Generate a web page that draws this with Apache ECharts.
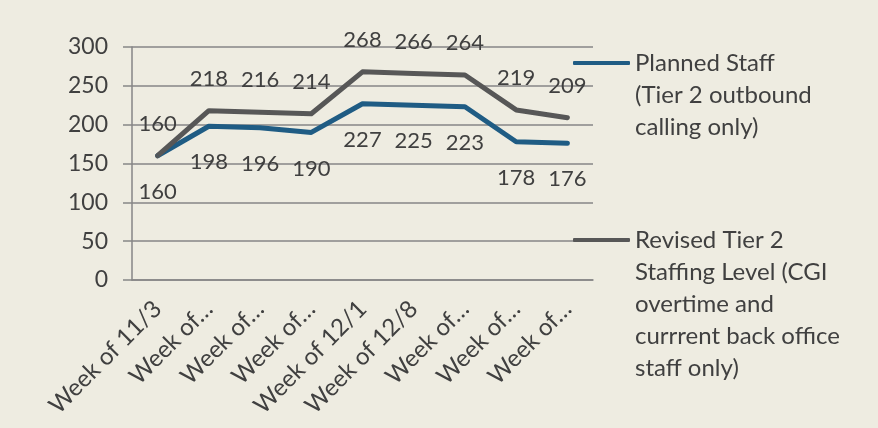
<!DOCTYPE html>
<html><head><meta charset="utf-8">
<style>html,body{margin:0;padding:0;background:#EEECE1;}#c{width:878px;height:428px;}</style>
<script src="https://cdn.jsdelivr.net/npm/echarts@6/dist/echarts.min.js"></script>
</head><body><div id="c"></div>
<script>
var categories = ["Week of 11/3","Week of\u2026","Week of\u2026","Week of\u2026","Week of 12/1","Week of 12/8","Week of\u2026","Week of\u2026","Week of\u2026"];
var plannedStaff = [160,198,196,190,227,225,223,178,176];
var revisedStaff = [160,218,216,214,268,266,264,219,209];
var seriesNames = ["Planned Staff\n(Tier 2 outbound\ncalling only)","Revised Tier 2\nStaffing Level (CGI\novertime and\ncurrrent back office\nstaff only)"];

var FONT = 'Lato';
var TXT = '#404040';
function padTop(name) {
  var n = name.split('\n').length - 1;
  var s = '';
  for (var i = 0; i < n; i++) s += ' \n';
  return s + name;
}
var chart = echarts.init(document.getElementById('c'));
chart.setOption({
  backgroundColor: '#EEECE1',
  animation: false,
  grid: {left: 132, right: 285, top: 47, bottom: 148},
  legend: [
    {data: [seriesNames[0]], left: 573, top: -17, padding: 0, itemWidth: 57, itemHeight: 4, icon: 'roundRect',
     formatter: padTop,
     textStyle: {fontFamily: FONT, fontSize: 24, color: TXT, lineHeight: 32}},
    {data: [seriesNames[1]], left: 573, top: 96, padding: 0, itemWidth: 57, itemHeight: 4, icon: 'roundRect',
     formatter: padTop,
     textStyle: {fontFamily: FONT, fontSize: 24, color: TXT, lineHeight: 32}}
  ],
  xAxis: {
    type: 'category', data: categories, boundaryGap: true,
    axisLine: {lineStyle: {color: '#868686', width: 1.5}},
    axisTick: {length: 8, lineStyle: {color: '#868686', width: 1.5}, alignWithLabel: false},
    axisLabel: {rotate: 45, fontFamily: FONT, fontSize: 24, color: TXT, margin: 25, interval: 0}
  },
  yAxis: {
    type: 'value', min: 0, max: 300, interval: 50,
    axisLine: {show: true, lineStyle: {color: '#868686', width: 1.5}},
    axisTick: {show: true, length: 9, lineStyle: {color: '#868686', width: 1.5}},
    splitLine: {lineStyle: {color: '#868686', width: 1.5}},
    axisLabel: {fontFamily: FONT, fontSize: 23, color: TXT, margin: 24}
  },
  series: [
    {name: seriesNames[0], type: 'line', data: plannedStaff, symbol: 'circle', symbolSize: 2, showSymbol: true,
     lineStyle: {color: '#1F5C84', width: 5, cap: 'round', join: 'round'}, itemStyle: {color: '#1F5C84'},
     label: {show: true, position: 'bottom', distance: 24, fontFamily: FONT, fontSize: 22, color: TXT}},
    {name: seriesNames[1], type: 'line', data: revisedStaff, symbol: 'circle', symbolSize: 2, showSymbol: true,
     lineStyle: {color: '#575757', width: 5, cap: 'round', join: 'round'}, itemStyle: {color: '#575757'},
     label: {show: true, position: 'top', distance: 20, fontFamily: FONT, fontSize: 22, color: TXT}}
  ]
});
</script></body></html>
